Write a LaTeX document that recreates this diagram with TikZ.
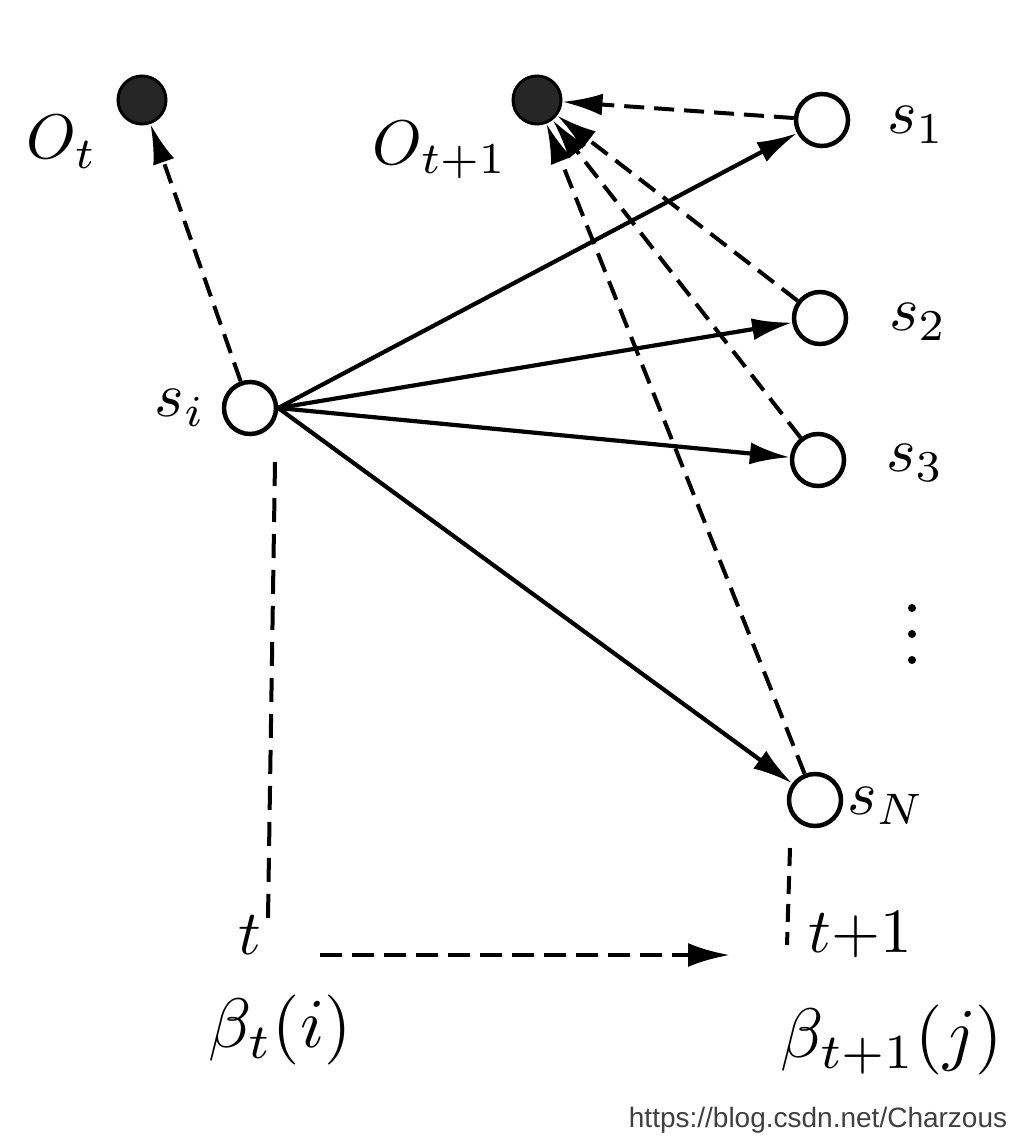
\documentclass[tikz,border=0pt]{standalone}
\usepackage{fontspec}
\newfontfamily\wmfont{Liberation Sans}
\usetikzlibrary{arrows.meta}
\begin{document}
\begin{tikzpicture}[x=1pt,y=-1pt,
  state/.style={circle,draw,line width=4.5pt,minimum size=52pt,inner sep=0pt,fill=white},
  obs/.style={circle,fill=black!85,draw=black,line width=3pt,minimum size=48pt,inner sep=0pt},
  lab/.style={scale=6.3,inner sep=0pt},
  solidarr/.style={line width=4.2pt,-{Latex[length=40pt,width=22pt]}},
  dasharr/.style={line width=4pt,dash pattern=on 20pt off 10pt,-{Latex[length=40pt,width=22pt]}},
  dashln/.style={line width=4pt,dash pattern=on 24pt off 12pt},
  dotmark/.style={fill=black}]
\useasboundingbox (0,0) rectangle (1032,1147);
\fill[white] (0,0) rectangle (1032,1147);
% nodes
\node[obs] (ot) at (142,100) {};
\node[obs] (ot1) at (537,100) {};
\node[state] (si) at (250,408) {};
\node[state] (s1) at (822,120) {};
\node[state] (s2) at (820,318) {};
\node[state] (s3) at (818,460) {};
\node[state] (sN) at (815,800) {};
% labels
\node[lab] (lot) at (62,142) {$O_t$};
\node[lab] (lot1) at (440,150) {$O_{t+1}$};
\node[lab] (lsi) at (180,408) {$s_i$};
\node[lab] (ls1) at (916,125) {$s_1$};
\node[lab] (ls2) at (918,322) {$s_2$};
\node[lab] (ls3) at (915,463) {$s_3$};
\node[lab,anchor=west] (lsN) at (846,806) {$s_N$};
\node[lab] (lt) at (250,935) {$t$};
\node[lab] (lt1) at (860,935) {${t}{+}{1}$};
\node[scale=7,inner sep=0pt] (lbt) at (280,1030) {$\beta_t(i)$};
\node[scale=7,inner sep=0pt] (lbt1) at (892,1040) {$\beta_{t+1}(j)$};
\node[font=\wmfont\fontsize{28}{32}\selectfont,text=black!75,inner sep=0pt] (wm) at (818,1120) {https://blog.csdn.net/Charzous};
% vertical dots
\fill[dotmark] (912,608) circle (4pt);
\fill[dotmark] (912,634) circle (4pt);
\fill[dotmark] (912,660) circle (4pt);
% connectors
\draw[dasharr] (si) -- (ot);
\draw[solidarr] (si.east) -- (s1);
\draw[solidarr] (si.east) -- (s2);
\draw[solidarr] (si.east) -- (s3);
\draw[solidarr] (si.east) -- (sN);
\draw[dasharr] (s1) -- (ot1);
\draw[dasharr] (s2) -- (ot1);
\draw[dasharr] (s3) -- (ot1);
\draw[dasharr] (sN) -- (ot1);
% time lines
\coordinate (v1a) at (275,462);
\coordinate (v1b) at (268,918);
\coordinate (v2a) at (790,848);
\coordinate (v2b) at (787,945);
\coordinate (ha) at (320,955);
\coordinate (hb) at (730,955);
\draw[dashln] (v1a) -- (v1b);
\draw[line width=4pt,dash pattern=on 18pt off 10pt] (v2a) -- (v2b);
\draw[line width=4.5pt,dash pattern=on 22pt off 10pt,-{Latex[length=42pt,width=24pt]}] (ha) -- (hb);
\end{tikzpicture}
\end{document}
